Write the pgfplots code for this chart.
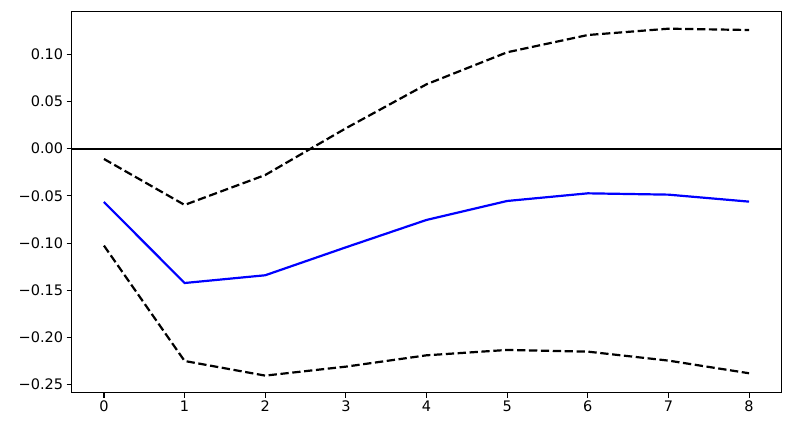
\documentclass[border=0pt]{standalone}
\usepackage{pgfplots}
\pgfplotsset{compat=1.18}
\usepackage{fontspec}
\setmainfont{DejaVu Sans}
\begin{document}
\begin{tikzpicture}
\useasboundingbox (-71.7bp,-38.3bp) rectangle (721.3bp,392.7bp);
\begin{axis}[
  at={(0,0)}, anchor=south west,
  scale only axis, width=709.6bp, height=381bp,
  xmin=-0.4, xmax=8.4, ymin=-0.2585, ymax=0.1451,
  xtick={0,1,2,3,4,5,6,7,8},
  ytick={-0.25,-0.20,-0.15,-0.10,-0.05,0,0.05,0.10},
  yticklabels={−0.25,−0.20,−0.15,−0.10,−0.05,0.00,0.05,0.10},
  tick align=outside, tick pos=left,
  major tick length=5bp,
  every tick/.style={black, line width=1.1bp},
  axis line style={line width=1.1bp},
  /pgf/number format/assume math mode=true,
  tick label style={font=\fontsize{14.5bp}{16bp}\selectfont},
  clip=true,
]
\addplot[black, line width=2bp] coordinates {(-0.4,0) (8.4,0)};
\addplot[blue, line width=2.2bp] coordinates {
(0,-0.0565) (1,-0.1423) (2,-0.1341) (3,-0.1045) (4,-0.0755) (5,-0.0554) (6,-0.0473) (7,-0.0487) (8,-0.0561)};
\addplot[black, line width=2.2bp, dash pattern=on 8.3bp off 3.6bp] coordinates {
(0,-0.0109) (1,-0.0596) (2,-0.0279) (3,0.0216) (4,0.0682) (5,0.1021) (6,0.1204) (7,0.1271) (8,0.1257)};
\addplot[black, line width=2.2bp, dash pattern=on 8.3bp off 3.6bp] coordinates {
(0,-0.1027) (1,-0.2249) (2,-0.2404) (3,-0.2309) (4,-0.2189) (5,-0.2132) (6,-0.2150) (7,-0.2245) (8,-0.2379)};
\end{axis}
\end{tikzpicture}
\end{document}
